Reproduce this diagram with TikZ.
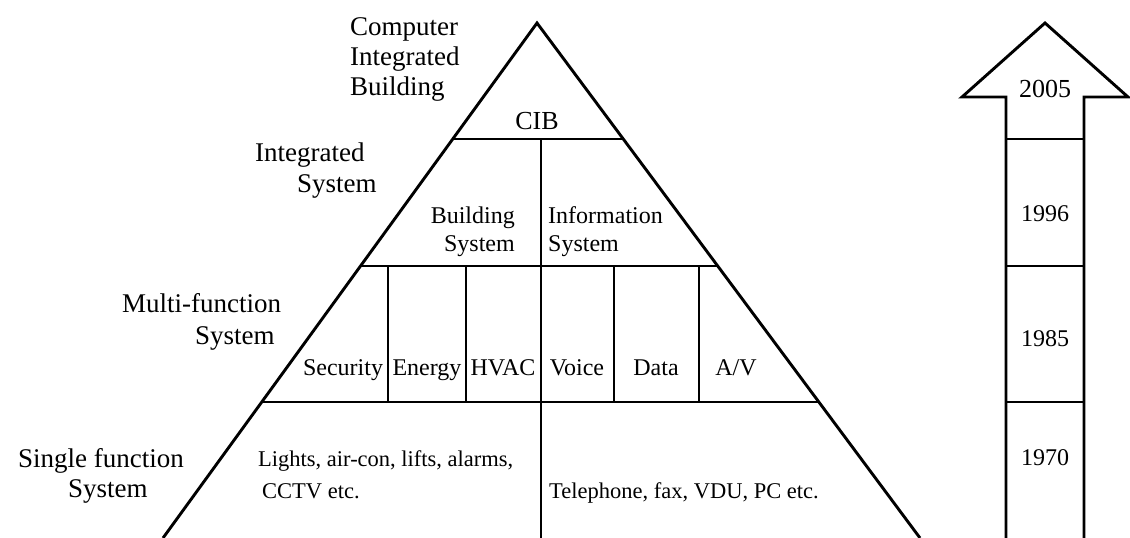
\documentclass[tikz,border=0pt]{standalone}
\usepackage{fontspec}
\setmainfont{Liberation Serif}
\begin{document}
\begin{tikzpicture}[x=1pt,y=-1pt,
  line join=miter,
  edge/.style={line width=2.9pt},
  outer/.style={font=\fontsize{27}{30}\selectfont, inner sep=0pt},
  cell/.style={font=\fontsize{24}{27}\selectfont, inner sep=0pt},
  big/.style={font=\fontsize{26}{29}\selectfont, inner sep=0pt},
  small/.style={font=\fontsize{22.5}{26}\selectfont, inner sep=0pt}]
\useasboundingbox (0,0) rectangle (1130,538);

% pyramid outline
\coordinate (apex) at (537,23);
\coordinate (bl) at (163,538);
\coordinate (br) at (920,538);
\draw[edge] (bl) -- (apex) -- (br);

% tier boundaries
\coordinate (t1l) at (453,139); \coordinate (t1r) at (623,139);
\coordinate (t2l) at (361,266); \coordinate (t2r) at (718,266);
\coordinate (t3l) at (262,402); \coordinate (t3r) at (819,402);
\draw[edge] (t1l) -- (t1r);
\draw[edge] (t2l) -- (t2r);
\draw[edge] (t3l) -- (t3r);

% centre divider
\coordinate (ctop) at (541,139);
\coordinate (cbot) at (541,538);
\draw[edge] (ctop) -- (cbot);

% multi-function cell dividers
\foreach \x in {388,466,614,699}
  \draw[edge] (\x,266) -- (\x,402);

% time arrow
\coordinate (tip) at (1045,23);
\coordinate (wl) at (962,97);
\coordinate (wr) at (1128,97);
\coordinate (sl) at (1006,97);
\coordinate (sr) at (1084,97);
\coordinate (sbl) at (1006,538);
\coordinate (sbr) at (1084,538);
\draw[edge] (sbl) -- (sl) -- (wl) -- (tip) -- (wr) -- (sr) -- (sbr);
\foreach \y in {139,266,402}
  \draw[edge] (1006,\y) -- (1084,\y);

% level labels
\node[outer, anchor=base west] (cib1) at (350,35) {Computer};
\node[outer, anchor=base west] (cib2) at (350,65) {Integrated};
\node[outer, anchor=base west] (cib3) at (350,95) {Building};
\node[outer, anchor=base west] (is1) at (255,161) {Integrated};
\node[outer, anchor=base west] (is2) at (297,192) {System};
\node[outer, anchor=base west] (mf1) at (122,312) {Multi-function};
\node[outer, anchor=base west] (mf2) at (195,344) {System};
\node[outer, anchor=base west] (sf1) at (18,467) {Single function};
\node[outer, anchor=base west] (sf2) at (68,497) {System};

% pyramid contents
\node[big, anchor=base] (cib) at (537,129) {CIB};
\node[cell, anchor=base east] (bs1) at (515,223) {Building};
\node[cell, anchor=base east] (bs2) at (515,251) {System};
\node[cell, anchor=base west] (inf1) at (548,223) {Information};
\node[cell, anchor=base west] (inf2) at (548,251) {System};
\node[cell, anchor=base] (sec) at (343,375) {Security};
\node[cell, anchor=base] (ene) at (427,375) {Energy};
\node[cell, anchor=base] (hvac) at (503,375) {HVAC};
\node[cell, anchor=base] (voi) at (577,375) {Voice};
\node[cell, anchor=base] (dat) at (656,375) {Data};
\node[cell, anchor=base] (av) at (736,375) {A/V};
\node[small, anchor=base west] (bld1) at (258,466) {Lights, air-con, lifts, alarms,};
\node[small, anchor=base west] (bld2) at (262,498) {CCTV etc.};
\node[small, anchor=base west] (itc) at (549,498) {Telephone, fax, VDU, PC etc.};

% years
\node[big, anchor=base] (y2005) at (1045,97) {2005};
\node[cell, anchor=base] (y1996) at (1045,221) {1996};
\node[cell, anchor=base] (y1985) at (1045,346) {1985};
\node[cell, anchor=base] (y1970) at (1045,465) {1970};
\end{tikzpicture}
\end{document}
